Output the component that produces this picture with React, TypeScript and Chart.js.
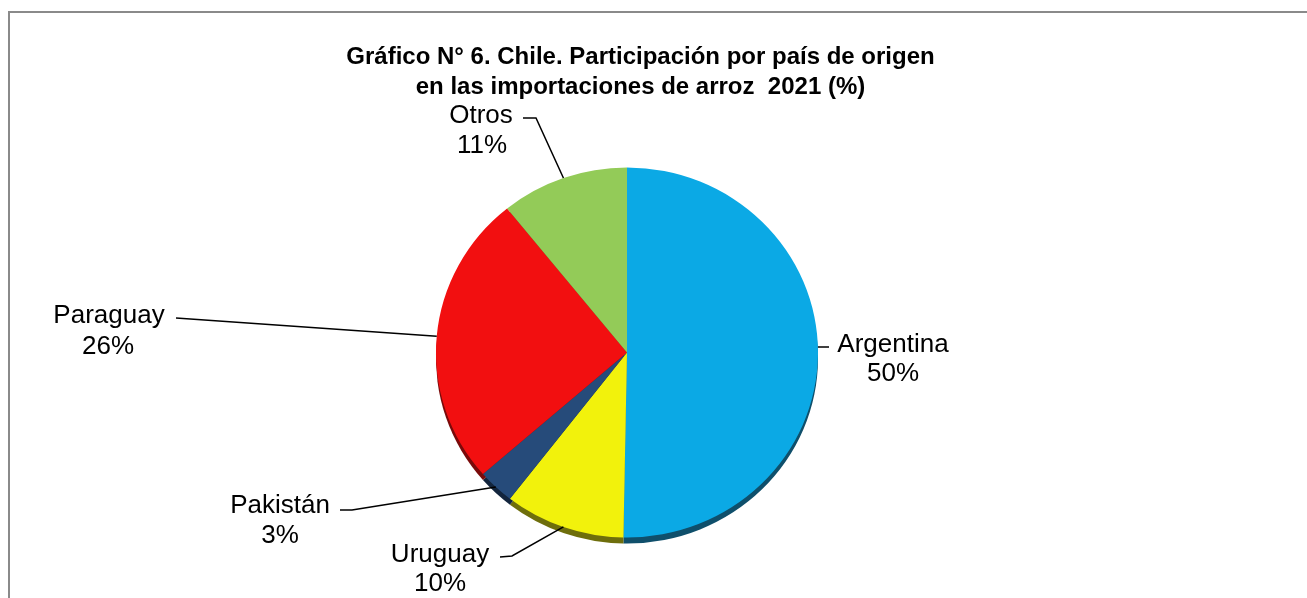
import React, { useEffect, useRef } from "react";
import { Chart, registerables } from "chart.js";

Chart.register(...registerables);

const categories = ["Argentina", "Uruguay", "Pakistán", "Paraguay", "Otros"];
const shares = [50.3, 10.2, 3.1, 25.6, 10.8];
const shareLabels = ["50%", "10%", "3%", "26%", "11%"];
const sliceColors = ["#0BA9E5", "#F2F20C", "#264B7A", "#F20F10", "#93CB58"];
const shadowColors = ["#0F4F6B", "#6E6E0C", "#13253D", "#7A0A0A", "#4A6A2C"];
const titleLines = [
  "Gráfico N° 6. Chile. Participación por país de origen",
  "en las importaciones de arroz  2021 (%)",
];

// label layout: [nameX, nameY, pctX, pctY, lineStartX, lineStartY, elbowX, elbowY, horizontal]
const labelLayout: number[][] = [
  [893, 345, 893, 374, 829, 347, 829, 347, 1],
  [440, 555, 440, 584, 500, 557, 512, 556, 0],
  [280, 506, 280, 536, 340, 510, 352, 510, 0],
  [109, 316, 108, 347, 176, 318, 176, 318, 0],
  [481, 116, 482, 146, 523, 118, 536, 118, 0],
];

const SY = 185 / 191;

export default function App() {
  const ref = useRef<HTMLCanvasElement | null>(null);
  useEffect(() => {
    if (!ref.current) return;
    const ellipse = {
      id: "ellipse",
      beforeDatasetsDraw(chart: any) {
        const ctx = chart.ctx;
        const meta = chart.getDatasetMeta(0);
        const a0 = meta.data[0];
        const cx = a0.x, cy = a0.y;
        ctx.save();
        ctx.translate(cx, cy);
        ctx.scale(1, SY);
        ctx.translate(-cx, -cy);
        meta.data.forEach((arc: any, i: number) => {
          ctx.beginPath();
          ctx.moveTo(arc.x, arc.y + 6 / SY);
          ctx.arc(arc.x, arc.y + 6 / SY, arc.outerRadius, arc.startAngle, arc.endAngle);
          ctx.closePath();
          ctx.fillStyle = shadowColors[i];
          ctx.fill();
        });
      },
      afterDatasetsDraw(chart: any) {
        chart.ctx.restore();
      },
    };
    const deco = {
      id: "deco",
      beforeDraw(chart: any) {
        const ctx = chart.ctx;
        ctx.save();
        ctx.fillStyle = "#ffffff";
        ctx.fillRect(0, 0, chart.width, chart.height);
        ctx.strokeStyle = "#8a8a8a";
        ctx.lineWidth = 2;
        ctx.strokeRect(9, 12, 1400, 700);
        ctx.restore();
      },
      afterDraw(chart: any) {
        const ctx = chart.ctx;
        const meta = chart.getDatasetMeta(0);
        ctx.save();
        ctx.fillStyle = "#000";
        ctx.textAlign = "center";
        ctx.textBaseline = "middle";
        ctx.font = "bold 24px 'Liberation Sans', Arial, sans-serif";
        ctx.fillText(titleLines[0], 640.5, 57);
        ctx.fillText(titleLines[1], 640.5, 87);
        ctx.font = "26px 'Liberation Sans', Arial, sans-serif";
        meta.data.forEach((arc: any, i: number) => {
          const L = labelLayout[i];
          ctx.fillText(categories[i], L[0], L[1]);
          ctx.fillText(shareLabels[i], L[2], L[3]);
          let ang = (arc.startAngle + arc.endAngle) / 2;
          if (L[8] === 1) {
            const s = (L[7] - arc.y) / (arc.outerRadius * SY);
            const a = Math.asin(Math.max(-1, Math.min(1, s)));
            const cand = L[6] >= arc.x ? a : Math.PI - a;
            if (cand >= arc.startAngle && cand <= arc.endAngle) ang = cand;
          }
          const px = arc.x + Math.cos(ang) * arc.outerRadius;
          const py = arc.y + Math.sin(ang) * arc.outerRadius * SY;
          ctx.beginPath();
          ctx.moveTo(L[4], L[5]);
          ctx.lineTo(L[6], L[7]);
          ctx.lineTo(px, py);
          ctx.strokeStyle = "#000";
          ctx.lineWidth = 1.5;
          ctx.stroke();
        });
        ctx.restore();
      },
    };
    const chart = new Chart(ref.current, {
      type: "pie",
      data: {
        labels: categories,
        datasets: [
          {
            data: shares,
            backgroundColor: sliceColors,
            borderWidth: 0,
            hoverOffset: 0,
          },
        ],
      },
      options: {
        responsive: false,
        animation: false,
        events: [],
        layout: { padding: { left: 436, right: 489, top: 161.5, bottom: 54.5 } },
        plugins: {
          legend: { display: false },
          tooltip: { enabled: false },
          title: { display: false },
        },
      },
      plugins: [deco, ellipse],
    });
    return () => chart.destroy();
  }, []);
  return (
    <div style={{ position: "fixed", left: 0, top: 0, width: 1307, height: 598 }}>
      <canvas ref={ref} width={1307} height={598} style={{ display: "block" }} />
    </div>
  );
}
